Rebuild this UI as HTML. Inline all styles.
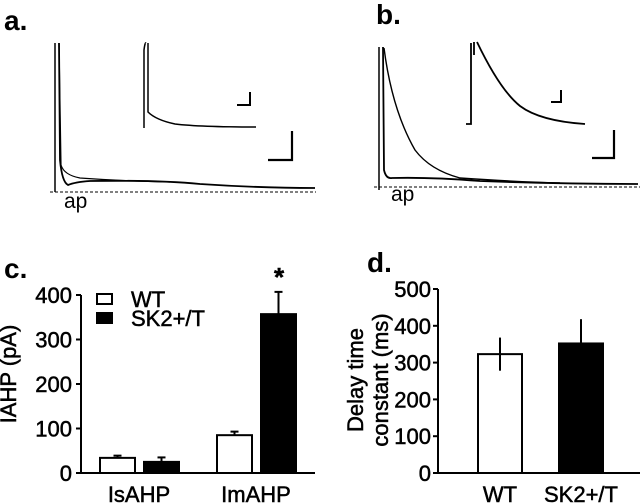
<!DOCTYPE html>
<html><head><meta charset="utf-8"><style>
html,body{margin:0;padding:0;background:#fff}
svg{display:block;font-family:"Liberation Sans",Arial,sans-serif}
.t{stroke:#000;stroke-width:0.5}
</style></head><body>
<svg width="640" height="503" viewBox="0 0 640 503" xmlns="http://www.w3.org/2000/svg">
<g fill="none" stroke="#000">
<text x="4" y="30" font-size="28" font-weight="bold" fill="#000" stroke="none">a.</text>
<line x1="55" y1="43" x2="55" y2="192" stroke-width="1.5"/>
<line x1="50" y1="192" x2="316" y2="192" stroke-dasharray="3,2" stroke-width="1"/>
<path d="M59,43 L60,160 Q62,182 68,185 Q75,182 90,181 Q160,180 200,184 Q260,188 315,188" stroke-width="1.8"/>
<path d="M59,43 L61,165 Q64,175 80,178 Q120,181 170,182" stroke-width="1.2"/>
<path d="M144,128 L144,50 Q145,42 146,43 M148,43 L148,112 Q156,120 175,124 Q200,127 256,127" stroke-width="1.5"/>
<path d="M237,105 H250 V92" stroke-width="2"/>
<path d="M268,160 H292 V131" stroke-width="2.2"/>
<text x="64" y="208" font-size="21" fill="#000" stroke="none">ap</text>
</g>
<g fill="none" stroke="#000">
<text x="376" y="24" font-size="28" font-weight="bold" fill="#000" stroke="none">b.</text>
<line x1="379" y1="47" x2="379" y2="190" stroke-width="1.5"/>
<line x1="374" y1="187" x2="640" y2="187" stroke-dasharray="3,2" stroke-width="1"/>
<path d="M383,47 L384,170 Q386,179 392,178 Q430,177 480,181 Q560,184 638,184" stroke-width="1.8"/>
<path d="M384,48 Q392,110 415,150 Q430,170 460,178 Q520,182 560,183" stroke-width="1.4"/>
<path d="M466,124 H471 V43 M474,42 V55 M477,42 Q500,90 520,106 Q540,121 585,124" stroke-width="1.8"/>
<path d="M551,102 H561 V90" stroke-width="2"/>
<path d="M592,158 H614 V130" stroke-width="2.2"/>
<text x="391" y="201" font-size="21" fill="#000" stroke="none">ap</text>
</g>
<text x="4" y="278" font-size="28" font-weight="bold">c.</text>
<text x="367" y="272" font-size="28" font-weight="bold">d.</text>
<g id="chartC"></g>
<g id="chartD"></g>
</svg>
<script>
const cGroups=["IsAHP","ImAHP"];
const cWT=[34,85];
const cWTerr=[5,8];
const cSK=[25,357];
const cSKerr=[10,50];
const cTicks=[0,100,200,300,400];
const dCats=["WT","SK2+/T"];
const dVals=[323,352];
const dErr=[45,66];
const dTicks=[0,100,200,300,400,500];
const NS="http://www.w3.org/2000/svg";
const FS=22;
function mk(p,t,a,txt){const e=document.createElementNS(NS,t);for(const k in a)e.setAttribute(k,a[k]);if(txt!==undefined){e.textContent=txt;e.setAttribute('class','t');}p.appendChild(e);return e;}
// chart c
(function(){
const g=document.getElementById('chartC');
const y=v=>473-v*(178/400);
const ax=mk(g,'path',{d:'M81,'+y(400)+' V473 H315',stroke:'#000','stroke-width':2,fill:'none'});

cTicks.forEach(t=>{
const l=mk(g,'line',{x1:76,x2:81,y1:y(t),y2:y(t),stroke:'#000','stroke-width':2});

const tx=mk(g,'text',{x:72,y:y(t)+8,'font-size':FS,'text-anchor':'end'},t);

});
const tt=mk(g,'text',{x:0,y:0,'font-size':FS,'text-anchor':'middle',transform:'translate(16,374) rotate(-90)'},'IAHP (pA)');

const gx=[100,217];
cGroups.forEach((c,i)=>{
const x0=gx[i];
[[cWT,cWTerr,'#fff',0],[cSK,cSKerr,'#000',44]].forEach(([vals,errs,fill,off],j)=>{
const x=x0+off,w=35,v=vals[i];
const e=mk(g,'line',{x1:x+w/2,x2:x+w/2,y1:y(v),y2:y(v+errs[i]),stroke:'#000','stroke-width':2});

const cap=mk(g,'line',{x1:x+w/2-4,x2:x+w/2+4,y1:y(v+errs[i]),y2:y(v+errs[i]),stroke:'#000','stroke-width':2});

const b=mk(g,'rect',{x:x,y:y(v),width:w,height:473-y(v),fill:fill,stroke:'#000','stroke-width':2});


});
const lb=mk(g,'text',{x:x0+39,y:502,'font-size':FS,'text-anchor':'middle'},c);

});
const st=mk(g,'text',{x:279,y:286,'font-size':26,'font-weight':'bold','text-anchor':'middle'},'*');

const l1=mk(g,'rect',{x:97,y:294,width:15,height:10,fill:'#fff',stroke:'#000','stroke-width':2});

const l2=mk(g,'rect',{x:97,y:313,width:15,height:10,fill:'#000',stroke:'#000','stroke-width':2});

const t1=mk(g,'text',{x:131,y:307,'font-size':FS},'WT');

const t2=mk(g,'text',{x:131,y:326,'font-size':FS},'SK2+/T');

})();
// chart d
(function(){
const g=document.getElementById('chartD');
const y=v=>473-v*(184/500);
const ax=mk(g,'path',{d:'M438,'+y(500)+' V473 H640',stroke:'#000','stroke-width':2,fill:'none'});

dTicks.forEach(t=>{
const l=mk(g,'line',{x1:433,x2:438,y1:y(t),y2:y(t),stroke:'#000','stroke-width':2});

const tx=mk(g,'text',{x:431,y:y(t)+8,'font-size':FS,'text-anchor':'end'},t);

});
const a=mk(g,'text',{x:0,y:0,'font-size':FS,'text-anchor':'middle',transform:'translate(363,380) rotate(-90)'},'Delay time');

const b2=mk(g,'text',{x:0,y:0,'font-size':FS,'text-anchor':'middle',transform:'translate(388,380) rotate(-90)'},'constant (ms)');

const xs=[478,559],fills=['#fff','#000'];
dCats.forEach((c,i)=>{
const x=xs[i],w=44,v=dVals[i];
const e=mk(g,'line',{x1:x+w/2,x2:x+w/2,y1:y(v),y2:y(v+dErr[i]),stroke:'#000','stroke-width':2});

const r=mk(g,'rect',{x:x,y:y(v),width:w,height:473-y(v),fill:fills[i],stroke:'#000','stroke-width':2});

if(!i){const e2=mk(g,'line',{x1:x+w/2,x2:x+w/2,y1:y(v),y2:y(v-dErr[i]),stroke:'#000','stroke-width':2});
}
const lb=mk(g,'text',{x:x+w/2,y:502,'font-size':FS,'text-anchor':'middle'},c);

});
})();
</script>
</body></html>
